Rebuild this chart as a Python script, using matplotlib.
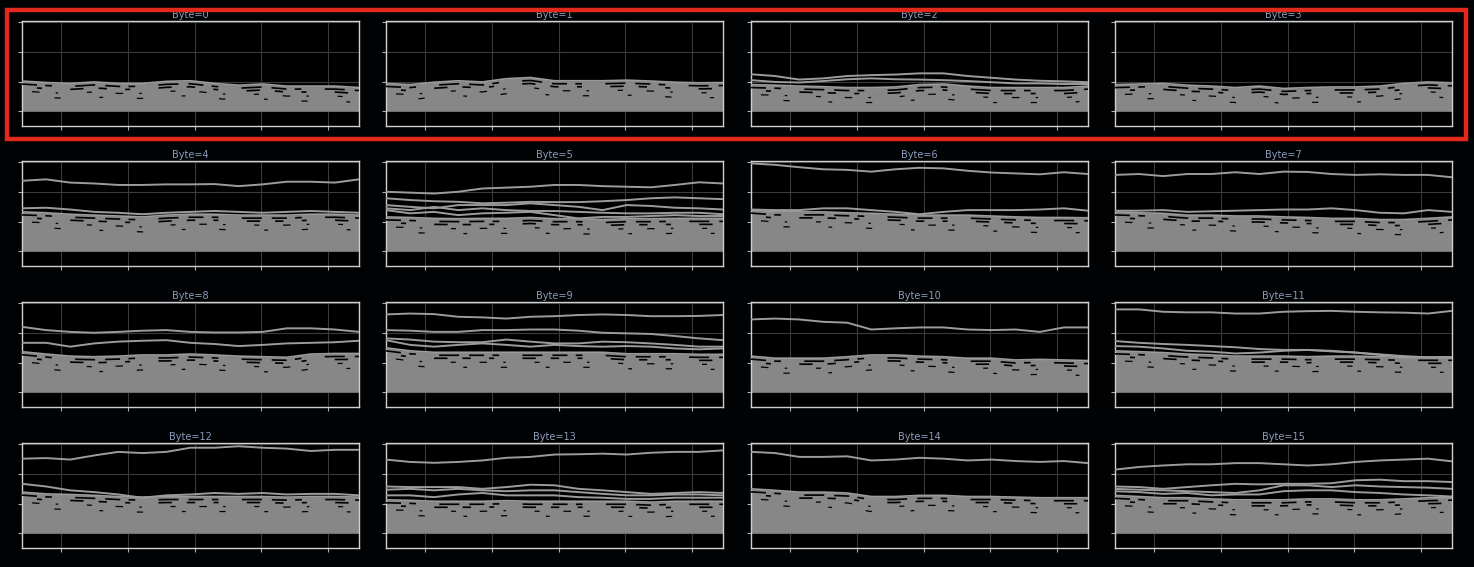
import matplotlib
matplotlib.use('Agg')
import matplotlib.pyplot as plt
from matplotlib import transforms
from matplotlib.patches import Rectangle

# sample positions along the trace
samples = [42, 78, 114, 150, 186, 222, 258, 294, 330, 366, 402, 438, 474, 510, 546]

# top of the dense grey band (wrong key guesses), per byte
band_0 = [0.102, 0.097, 0.094, 0.099, 0.094, 0.094, 0.101, 0.103, 0.094, 0.088, 0.092, 0.085, 0.085, 0.085, 0.080]
band_1 = [0.094, 0.090, 0.098, 0.103, 0.099, 0.110, 0.114, 0.103, 0.103, 0.103, 0.105, 0.102, 0.098, 0.096, 0.097]
band_2 = [0.090, 0.088, 0.085, 0.083, 0.080, 0.080, 0.082, 0.090, 0.092, 0.085, 0.080, 0.080, 0.080, 0.080, 0.085]
band_3 = [0.090, 0.092, 0.094, 0.088, 0.085, 0.080, 0.085, 0.077, 0.080, 0.082, 0.082, 0.085, 0.094, 0.099, 0.096]
band_4 = [0.133, 0.130, 0.125, 0.122, 0.119, 0.116, 0.122, 0.125, 0.125, 0.122, 0.122, 0.122, 0.125, 0.125, 0.122]
band_5 = [0.116, 0.114, 0.111, 0.110, 0.111, 0.111, 0.114, 0.110, 0.110, 0.107, 0.110, 0.110, 0.111, 0.111, 0.111]
band_6 = [0.139, 0.133, 0.133, 0.133, 0.130, 0.128, 0.125, 0.122, 0.122, 0.122, 0.119, 0.116, 0.114, 0.114, 0.113]
band_7 = [0.133, 0.130, 0.128, 0.122, 0.122, 0.119, 0.119, 0.116, 0.114, 0.111, 0.111, 0.107, 0.107, 0.111, 0.116]
band_8 = [0.137, 0.129, 0.122, 0.120, 0.122, 0.126, 0.126, 0.129, 0.126, 0.122, 0.120, 0.118, 0.129, 0.131, 0.131]
band_9 = [0.150, 0.140, 0.135, 0.135, 0.135, 0.135, 0.135, 0.135, 0.135, 0.135, 0.130, 0.130, 0.130, 0.128, 0.128]
band_10 = [0.122, 0.115, 0.115, 0.115, 0.120, 0.126, 0.126, 0.122, 0.120, 0.115, 0.115, 0.109, 0.111, 0.109, 0.107]
band_11 = [0.140, 0.137, 0.134, 0.129, 0.126, 0.122, 0.122, 0.122, 0.120, 0.122, 0.122, 0.120, 0.118, 0.118, 0.118]
band_12 = [0.139, 0.133, 0.131, 0.128, 0.124, 0.122, 0.124, 0.124, 0.124, 0.124, 0.124, 0.122, 0.124, 0.124, 0.122]
band_13 = [0.113, 0.111, 0.108, 0.108, 0.108, 0.110, 0.108, 0.108, 0.108, 0.108, 0.108, 0.105, 0.108, 0.108, 0.108]
band_14 = [0.150, 0.145, 0.139, 0.139, 0.136, 0.124, 0.124, 0.128, 0.128, 0.124, 0.124, 0.122, 0.120, 0.120, 0.120]
band_15 = [0.128, 0.124, 0.120, 0.120, 0.116, 0.113, 0.113, 0.113, 0.116, 0.116, 0.113, 0.113, 0.116, 0.120, 0.122]

# traces that stand out above the band
peaks_0 = []
peaks_1 = []
peaks_2 = [
    [0.125, 0.119, 0.107, 0.111, 0.119, 0.122, 0.124, 0.128, 0.128, 0.119, 0.113, 0.107, 0.103, 0.101, 0.098],
    [0.105, 0.099, 0.097, 0.102, 0.108, 0.111, 0.108, 0.107, 0.105, 0.102, 0.098, 0.094, 0.094, 0.092, 0.092],
]
peaks_3 = []
peaks_4 = [
    [0.238, 0.243, 0.232, 0.229, 0.224, 0.224, 0.226, 0.226, 0.227, 0.220, 0.226, 0.235, 0.235, 0.232, 0.243],
    [0.145, 0.147, 0.141, 0.133, 0.130, 0.125, 0.130, 0.133, 0.136, 0.133, 0.130, 0.133, 0.136, 0.133, 0.130],
]
peaks_5 = [
    [0.201, 0.198, 0.195, 0.201, 0.212, 0.215, 0.218, 0.224, 0.224, 0.220, 0.218, 0.216, 0.224, 0.233, 0.229],
    [0.179, 0.173, 0.169, 0.167, 0.162, 0.164, 0.167, 0.166, 0.166, 0.169, 0.173, 0.179, 0.182, 0.179, 0.176],
    [0.156, 0.150, 0.145, 0.156, 0.156, 0.156, 0.162, 0.156, 0.150, 0.139, 0.156, 0.153, 0.147, 0.145, 0.141],
    [0.145, 0.139, 0.150, 0.139, 0.145, 0.139, 0.136, 0.136, 0.133, 0.130, 0.128, 0.128, 0.130, 0.130, 0.125],
    [0.139, 0.128, 0.133, 0.122, 0.128, 0.130, 0.133, 0.122, 0.111, 0.116, 0.116, 0.119, 0.122, 0.119, 0.119],
]
peaks_6 = [
    [0.297, 0.292, 0.284, 0.277, 0.275, 0.269, 0.277, 0.282, 0.280, 0.272, 0.266, 0.263, 0.260, 0.267, 0.261],
    [0.141, 0.139, 0.139, 0.145, 0.145, 0.139, 0.133, 0.125, 0.133, 0.139, 0.139, 0.139, 0.141, 0.145, 0.137],
]
peaks_7 = [
    [0.258, 0.261, 0.254, 0.261, 0.261, 0.267, 0.261, 0.269, 0.268, 0.261, 0.258, 0.260, 0.258, 0.258, 0.250],
    [0.137, 0.137, 0.139, 0.133, 0.135, 0.137, 0.139, 0.141, 0.141, 0.145, 0.139, 0.130, 0.128, 0.139, 0.133],
]
peaks_8 = [
    [0.221, 0.210, 0.204, 0.201, 0.204, 0.208, 0.210, 0.204, 0.202, 0.202, 0.204, 0.216, 0.216, 0.212, 0.204],
    [0.167, 0.167, 0.154, 0.165, 0.171, 0.174, 0.176, 0.167, 0.163, 0.156, 0.160, 0.165, 0.167, 0.169, 0.174],
]
peaks_9 = [
    [0.263, 0.266, 0.264, 0.255, 0.253, 0.249, 0.255, 0.257, 0.261, 0.263, 0.261, 0.257, 0.257, 0.258, 0.261],
    [0.210, 0.208, 0.204, 0.204, 0.210, 0.210, 0.212, 0.212, 0.208, 0.201, 0.199, 0.197, 0.190, 0.182, 0.176],
    [0.182, 0.178, 0.171, 0.169, 0.169, 0.178, 0.171, 0.165, 0.165, 0.171, 0.169, 0.165, 0.160, 0.154, 0.154],
    [0.176, 0.160, 0.154, 0.160, 0.165, 0.160, 0.154, 0.160, 0.156, 0.154, 0.156, 0.154, 0.148, 0.145, 0.148],
]
peaks_10 = [
    [0.246, 0.249, 0.246, 0.238, 0.235, 0.212, 0.216, 0.219, 0.219, 0.212, 0.210, 0.212, 0.204, 0.219, 0.219],
]
peaks_11 = [
    [0.280, 0.280, 0.272, 0.270, 0.270, 0.266, 0.266, 0.272, 0.274, 0.275, 0.272, 0.270, 0.269, 0.266, 0.275],
    [0.173, 0.167, 0.163, 0.160, 0.156, 0.152, 0.146, 0.143, 0.143, 0.140, 0.134, 0.126, 0.120, 0.118, 0.118],
    [0.156, 0.154, 0.148, 0.140, 0.137, 0.131, 0.134, 0.140, 0.143, 0.138, 0.134, 0.128, 0.122, 0.118, 0.118],
]
peaks_12 = [
    [0.252, 0.254, 0.249, 0.263, 0.275, 0.271, 0.275, 0.289, 0.289, 0.294, 0.289, 0.286, 0.278, 0.282, 0.282],
    [0.167, 0.158, 0.145, 0.139, 0.131, 0.120, 0.128, 0.131, 0.136, 0.133, 0.136, 0.131, 0.133, 0.133, 0.128],
]
peaks_13 = [
    [0.249, 0.241, 0.238, 0.241, 0.246, 0.255, 0.258, 0.266, 0.267, 0.269, 0.266, 0.272, 0.275, 0.275, 0.280],
    [0.158, 0.156, 0.156, 0.156, 0.150, 0.156, 0.164, 0.162, 0.150, 0.145, 0.139, 0.133, 0.136, 0.139, 0.136],
    [0.147, 0.150, 0.145, 0.150, 0.145, 0.142, 0.145, 0.145, 0.139, 0.133, 0.128, 0.128, 0.131, 0.131, 0.128],
    [0.128, 0.128, 0.122, 0.131, 0.136, 0.128, 0.128, 0.128, 0.122, 0.120, 0.116, 0.116, 0.120, 0.120, 0.120],
]
peaks_14 = [
    [0.275, 0.271, 0.258, 0.258, 0.260, 0.246, 0.249, 0.255, 0.252, 0.246, 0.249, 0.244, 0.241, 0.244, 0.237],
]
peaks_15 = [
    [0.215, 0.224, 0.229, 0.233, 0.233, 0.237, 0.237, 0.233, 0.229, 0.233, 0.241, 0.246, 0.249, 0.252, 0.243],
    [0.158, 0.156, 0.150, 0.156, 0.162, 0.167, 0.165, 0.167, 0.167, 0.169, 0.179, 0.181, 0.176, 0.176, 0.173],
    [0.150, 0.147, 0.145, 0.142, 0.139, 0.136, 0.145, 0.162, 0.162, 0.156, 0.162, 0.158, 0.156, 0.154, 0.150],
    [0.142, 0.139, 0.133, 0.136, 0.128, 0.131, 0.131, 0.142, 0.145, 0.145, 0.139, 0.136, 0.131, 0.128, 0.124],
]

bands = [band_0, band_1, band_2, band_3, band_4, band_5, band_6, band_7,
         band_8, band_9, band_10, band_11, band_12, band_13, band_14, band_15]
peaks = [peaks_0, peaks_1, peaks_2, peaks_3, peaks_4, peaks_5, peaks_6, peaks_7,
         peaks_8, peaks_9, peaks_10, peaks_11, peaks_12, peaks_13, peaks_14, peaks_15]

W, H = 1474, 567
BAND = '#878787'
LINE = '#9c9c9c'

fig = plt.figure(figsize=(W / 100, H / 100), dpi=100, facecolor='#010204')

col_left = [22, 386, 751, 1115]
row_top = [21, 161, 302, 443]
aw, ah = 337, 105

# irregular black specks near the top of the band (offset in px, dash pattern)
gap_styles = [
    (-3, (0, (9, 5, 4, 14, 12, 6))),
    (-6, (7, (5, 11, 3, 17, 8, 9))),
    (-10, (15, (4, 19, 6, 13, 2, 23))),
    (-15, (4, (3, 27, 5, 31))),
]

for i in range(16):
    r, c = divmod(i, 4)
    ax = fig.add_axes([col_left[c] / W, 1 - (row_top[r] + ah) / H, aw / W, ah / H])
    ax.set_facecolor('black')

    ax.fill_between(samples, 0, bands[i], color=BAND, lw=0, zorder=2)
    for k, (off, ls) in enumerate(gap_styles):
        tr = transforms.offset_copy(ax.transData, fig=fig, y=off, units='dots')
        ax.plot(samples, bands[i], color='black', lw=1.2 if k < 2 else 0.9,
                ls=ls, transform=tr, zorder=3)
    ax.plot(samples, bands[i], color=LINE, lw=1.2, zorder=4)

    for p in peaks[i]:
        ax.plot(samples, p, color=LINE, lw=1.4, zorder=5)

    ax.set_xlim(42, 546)
    ax.set_ylim(-0.05, 0.305)
    ax.set_xticks([100, 200, 300, 400, 500])
    ax.set_yticks([0, 0.1, 0.2, 0.3])
    ax.tick_params(length=3, width=0.8, color='#b0b0b0',
                   labelbottom=False, labelleft=False)
    ax.grid(True, color='#3a3a3a', lw=0.8)
    ax.set_axisbelow(True)
    for s in ax.spines.values():
        s.set_color('#d0d0d0')
        s.set_linewidth(1.0)
    ax.set_title(f'Byte={i}', fontsize=7, color='#8d9cbc', pad=2)

# red frame around the first row
fig.patches.append(Rectangle((7 / W, 1 - 139 / H), (1466 - 7) / W, (139 - 10) / H,
                             transform=fig.transFigure, fill=False,
                             edgecolor='#e3281c', lw=3.2, figure=fig))

fig.savefig('out.png', dpi=100, facecolor=fig.get_facecolor())
